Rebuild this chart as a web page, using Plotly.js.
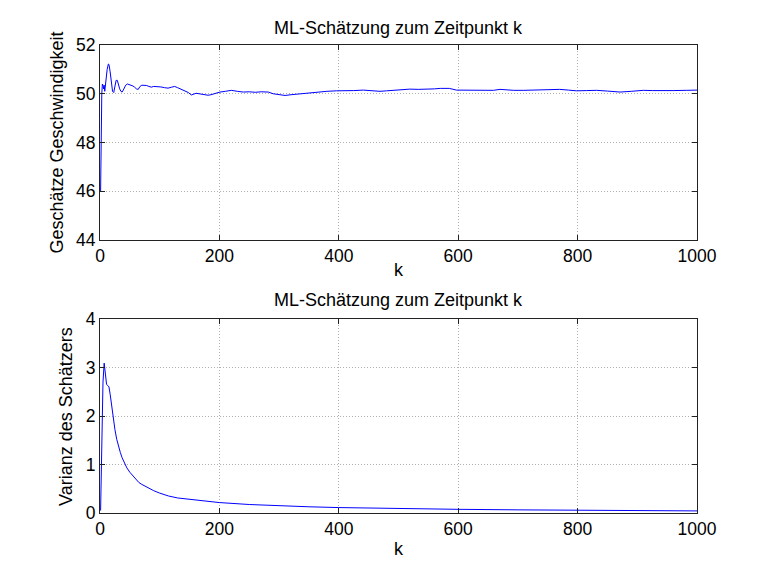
<!DOCTYPE html>
<html>
<head>
<meta charset="utf-8">
<script src="https://cdn.plot.ly/plotly-3.0.1.min.js"></script>
<style>html,body{margin:0;padding:0;background:#fff;}#chart{width:770px;height:577px;}</style>
</head>
<body>
<div id="chart"></div>
<script>
// Top panel: estimated speed (ML estimate) vs k
const kSpeed = [1,2,3,4,5,6,7,8,10,12,14,15,17,19,21,23,25,27,29,31,33,35,37,39,41,43,46,49,52,55,58,61,64,67,70,74,78,82,86,90,94,98,102,108,114,120,125,130,136,140,144,148,153,157,161,166,172,177,181,186,191,196,201,210,220,230,240,250,260,270,282,290,300,310,320,335,350,363,380,396,410,425,441,455,469,480,491,505,519,533,547,560,570,585,597,610,625,640,659,670,680,693,710,725,737,755,770,785,798,815,832,850,871,890,910,925,943,960,982,1000];
const vSpeed = [46.0,48.9,50.0,50.4,50.35,50.2,50.35,50.1,50.6,51.0,51.22,51.2,50.9,50.5,50.1,50.05,50.35,50.55,50.55,50.35,50.2,50.1,50.07,50.15,50.25,50.35,50.4,50.38,50.37,50.32,50.27,50.2,50.18,50.3,50.35,50.36,50.34,50.3,50.27,50.3,50.3,50.28,50.28,50.25,50.23,50.27,50.3,50.25,50.18,50.14,50.1,50.05,49.95,49.97,50.02,50.0,49.98,49.97,49.94,49.96,50.0,50.04,50.07,50.1,50.14,50.1,50.07,50.08,50.06,50.08,50.07,50.0,49.96,49.93,49.96,50.0,50.04,50.07,50.1,50.12,50.11,50.13,50.15,50.12,50.1,50.12,50.14,50.16,50.19,50.18,50.18,50.2,50.22,50.22,50.15,50.15,50.16,50.15,50.14,50.18,50.15,50.14,50.14,50.15,50.15,50.16,50.18,50.15,50.12,50.13,50.14,50.11,50.07,50.1,50.14,50.13,50.12,50.13,50.14,50.15];

// Bottom panel: variance of the estimator vs k
const kVar = [1,3,5,7,9,11,13,15,17,19,21,23,25,28,31,34,37,41,45,50,55,60,65,70,80,90,100,115,130,150,175,200,250,300,350,400,500,600,700,800,900,1000];
const vVar = [0.05,1.5,2.7,3.09,2.85,2.65,2.63,2.6,2.45,2.25,2.05,1.88,1.72,1.52,1.37,1.25,1.14,1.02,0.93,0.84,0.77,0.70,0.63,0.59,0.52,0.46,0.41,0.35,0.31,0.28,0.245,0.215,0.175,0.148,0.128,0.112,0.09,0.076,0.065,0.056,0.049,0.043];

const xTicks = [0,200,400,600,800,1000];
const ySpeedTicks = [44,46,48,50,52];
const yVarTicks = [0,1,2,3,4];

const titleText = 'ML-Schätzung zum Zeitpunkt k';
const xLabel = 'k';
const ySpeedLabel = 'Geschätze Geschwindigkeit';
const yVarLabel = 'Varianz des Schätzers';

const F = 'Liberation Sans, Arial, Helvetica, sans-serif';
const axCommon = {
  showline: true, linecolor: '#222', linewidth: 1, mirror: 'ticks',
  ticks: 'inside', ticklen: 5, tickcolor: '#222', tickwidth: 1,
  showgrid: true, gridcolor: '#b0b0b0', griddash: '1px,2px', gridwidth: 1,
  zeroline: false, tickfont: {family: F, size: 17.5, color: '#000'}
};

const data = [
  {x: kSpeed, y: vSpeed, type: 'scatter', mode: 'lines', line: {color: '#0000ff', width: 1}, xaxis: 'x', yaxis: 'y', hoverinfo: 'none'},
  {x: kVar, y: vVar, type: 'scatter', mode: 'lines', line: {color: '#0000ff', width: 1}, xaxis: 'x2', yaxis: 'y2', hoverinfo: 'none'}
];

const lab = {family: F, size: 18, color: '#000'};
const layout = {
  width: 770, height: 577,
  margin: {l: 100, r: 73, t: 45, b: 64},
  paper_bgcolor: '#fff', plot_bgcolor: '#fff',
  showlegend: false,
  xaxis: Object.assign({}, axCommon, {domain: [0,1], range: [0,1000], tickvals: xTicks, ticktext: xTicks.map(String), anchor: 'y'}),
  yaxis: Object.assign({}, axCommon, {domain: [0.5833,1], range: [44,52], tickvals: ySpeedTicks, ticktext: ySpeedTicks.map(String), anchor: 'x'}),
  xaxis2: Object.assign({}, axCommon, {domain: [0,1], range: [0,1000], tickvals: xTicks, ticktext: xTicks.map(String), anchor: 'y2'}),
  yaxis2: Object.assign({}, axCommon, {domain: [0,0.4145], range: [0,4], tickvals: yVarTicks, ticktext: yVarTicks.map(String), anchor: 'x2'}),
  annotations: [
    {text: titleText, xref: 'paper', yref: 'paper', x: 0.5, y: 1.0363, xanchor: 'center', yanchor: 'middle', showarrow: false, font: lab},
    {text: titleText, xref: 'paper', yref: 'paper', x: 0.5, y: 0.455, xanchor: 'center', yanchor: 'middle', showarrow: false, font: lab},
    {text: xLabel, xref: 'paper', yref: 'paper', x: 0.5, y: 0.519, xanchor: 'center', yanchor: 'middle', showarrow: false, font: lab},
    {text: xLabel, xref: 'paper', yref: 'paper', x: 0.5, y: -0.077, xanchor: 'center', yanchor: 'middle', showarrow: false, font: lab},
    {text: ySpeedLabel, xref: 'paper', yref: 'paper', x: -0.072, y: 0.7917, xanchor: 'center', yanchor: 'middle', textangle: -90, showarrow: false, font: lab},
    {text: yVarLabel, xref: 'paper', yref: 'paper', x: -0.057, y: 0.2073, xanchor: 'center', yanchor: 'middle', textangle: -90, showarrow: false, font: lab}
  ]
};

Plotly.newPlot('chart', data, layout, {staticPlot: true, displayModeBar: false});
</script>
</body>
</html>
